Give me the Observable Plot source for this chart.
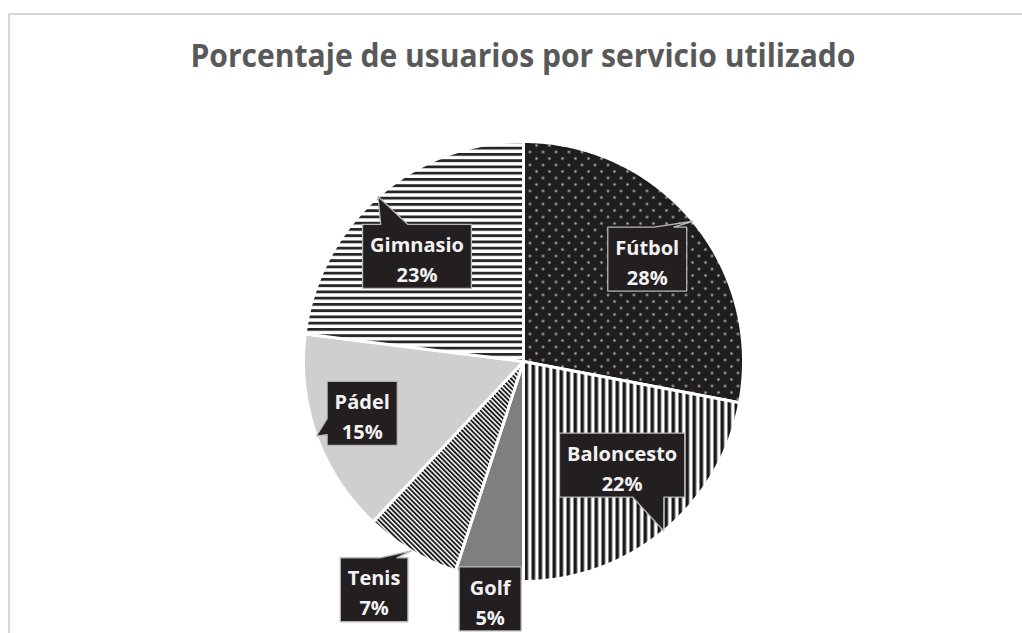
<!DOCTYPE html>
<html><head><meta charset="utf-8">
<script src="https://cdn.jsdelivr.net/npm/d3@7"></script>
<script src="https://cdn.jsdelivr.net/npm/@observablehq/plot@0.6"></script>
<style>
body{margin:0;background:#fff;}
#wrap{position:relative;width:1022px;height:633px;overflow:hidden;background:#fff;font-family:"Open Sans",sans-serif;}
#frame{position:absolute;left:8px;top:13px;width:1100px;height:700px;border-top:2px solid #d6d6d6;border-left:2px solid #d6d6d6;pointer-events:none;}
#title{position:absolute;left:0;top:39px;width:1045px;text-align:center;font-size:32px;line-height:32px;font-weight:700;color:#595959;white-space:nowrap;}
#tt{display:inline-block;transform-origin:50% 50%;}
#chart{position:absolute;left:0;top:90px;}
</style></head><body>
<div id="wrap">
<div id="title"><span id="tt">Porcentaje de usuarios por servicio utilizado</span></div>
<div id="chart"></div>
<div id="frame"></div>
</div>
<script>
// ---- data ----
const servicios = ["Fútbol", "Baloncesto", "Golf", "Tenis", "Pádel", "Gimnasio"];
const porcentajes = [28, 22, 5, 7, 15, 23];
const etiquetas = ["28%", "22%", "5%", "7%", "15%", "23%"];

// ---- styles / layout (not data) ----
const patrones = ["url(#p-futbol)", "url(#p-balon)", "#7f7f7f", "url(#p-tenis)", "#cfcfcf", "url(#p-gim)"];
const labelRadio = [0.73, 0.65, 1.09, 1.24, 0.77, 0.68];   // label centre distance (fraction of radius)
const labelGiro = [0, -4, -1, 2.6, 2, -4];                   // small angular nudge (deg)

const W = 1022, H = 543, CX = 523, CY = 271, R = 220;

// title fit
const tt = document.getElementById("tt");
const tw = tt.getBoundingClientRect().width;
tt.style.transform = `scaleX(${665 / tw})`;

// slices from data
const table = servicios.map((s, i) => ({name: s, value: porcentajes[i], label: etiquetas[i], fill: patrones[i], idx: i}));
const arcs = d3.pie().sort(null).value(d => d.value).startAngle(0).endAngle(2 * Math.PI)(table);

const slicePts = [];
for (const a of arcs) {
  const n = Math.max(2, Math.ceil((a.endAngle - a.startAngle) / (Math.PI / 360)));
  slicePts.push({name: a.data.name, fill: a.data.fill, x: 0, y: 0});
  for (let k = 0; k <= n; k++) {
    const t = a.startAngle + (a.endAngle - a.startAngle) * k / n;
    slicePts.push({name: a.data.name, fill: a.data.fill, x: Math.sin(t), y: Math.cos(t)});
  }
  slicePts.push({name: a.data.name, fill: a.data.fill, x: 0, y: 0});
}

// label boxes with callout tails
const ctx = document.createElement("canvas").getContext("2d");
ctx.font = "bold 20px 'Open Sans'";
const labels = [];
const boxPts = [];
for (const a of arcs) {
  const i = a.data.idx;
  const mid = (a.startAngle + a.endAngle) / 2;
  const lm = mid + labelGiro[i] * Math.PI / 180;
  const cx = labelRadio[i] * Math.sin(lm), cy = labelRadio[i] * Math.cos(lm);
  const tx = Math.sin(mid), ty = Math.cos(mid);
  const tw = Math.max(ctx.measureText(a.data.name).width, ctx.measureText(a.data.label).width);
  const w = Math.max(tw + 15, 62) / R, h = 64 / R;
  const hw = w / 2, hh = h / 2;
  const l = cx - hw, r = cx + hw, t = cy + hh, b = cy - hh;
  const dx = (tx - cx) / hw, dy = (ty - cy) / hh;
  let pts;
  if (Math.abs(dx) <= 1 && Math.abs(dy) <= 1) {
    pts = [[l, t], [r, t], [r, b], [l, b], [l, t]];
  } else if (Math.abs(dy) >= Math.abs(dx)) {
    const xs = tx < cx ? [l + w * 2 / 12, l + w * 5 / 12] : [l + w * 7 / 12, l + w * 10 / 12];
    if (dy > 0) pts = [[l, t], [xs[0], t], [tx, ty], [xs[1], t], [r, t], [r, b], [l, b], [l, t]];
    else pts = [[l, t], [r, t], [r, b], [xs[1], b], [tx, ty], [xs[0], b], [l, b], [l, t]];
  } else {
    const ys = ty > cy ? [t - h * 2 / 12, t - h * 5 / 12] : [t - h * 7 / 12, t - h * 10 / 12];
    if (dx > 0) pts = [[l, t], [r, t], [r, ys[0]], [tx, ty], [r, ys[1]], [r, b], [l, b], [l, t]];
    else pts = [[l, t], [r, t], [r, b], [l, b], [l, ys[1]], [tx, ty], [l, ys[0]], [l, t]];
  }
  for (const p of pts) boxPts.push({name: a.data.name, x: p[0], y: p[1]});
  labels.push({x: cx, y: cy, text: a.data.name + "\n" + a.data.label});
}

const chart = Plot.plot({
  width: W, height: H, margin: 0,
  style: {background: "transparent"},
  x: {domain: [-CX / R, (W - CX) / R], axis: null},
  y: {domain: [-(H - CY) / R, CY / R], axis: null},
  color: {type: "identity"},
  marks: [
    Plot.line(slicePts, {x: "x", y: "y", z: "name", fill: "fill", stroke: "white", strokeWidth: 3, curve: "linear", strokeLinejoin: "round"}),
    Plot.line(boxPts, {x: "x", y: "y", z: "name", fill: "#231f20", stroke: "#b8b8b8", strokeWidth: 1.3, curve: "linear", strokeLinejoin: "miter"}),
    Plot.text(labels, {x: "x", y: "y", text: "text", fill: "#f2f2f2", fontSize: 20, fontWeight: "bold", fontFamily: "Open Sans", lineHeight: 1.5, dy: 1})
  ]
});

// patterns
const svg = d3.select(chart);
const defs = svg.insert("defs", ":first-child");
let p = defs.append("pattern").attr("id", "p-futbol").attr("patternUnits", "userSpaceOnUse").attr("width", 13).attr("height", 13);
p.append("rect").attr("width", 13).attr("height", 13).attr("fill", "#1f1d1e");
p.append("circle").attr("cx", 3).attr("cy", 3).attr("r", 1.25).attr("fill", "#b4b4b4");
p.append("circle").attr("cx", 9.5).attr("cy", 9.5).attr("r", 1.25).attr("fill", "#b4b4b4");

p = defs.append("pattern").attr("id", "p-balon").attr("patternUnits", "userSpaceOnUse").attr("width", 7).attr("height", 10).attr("x", 523 % 7 + 1);
p.append("rect").attr("width", 7).attr("height", 10).attr("fill", "#ffffff");
p.append("rect").attr("width", 3.6).attr("height", 10).attr("fill", "#1a1a1a");

p = defs.append("pattern").attr("id", "p-gim").attr("patternUnits", "userSpaceOnUse").attr("width", 10).attr("height", 6.25);
p.append("rect").attr("width", 10).attr("height", 6.25).attr("fill", "#ffffff");
p.append("rect").attr("width", 10).attr("height", 2.8).attr("fill", "#262626");

p = defs.append("pattern").attr("id", "p-tenis").attr("patternUnits", "userSpaceOnUse").attr("width", 3.4).attr("height", 3.4).attr("patternTransform", "rotate(-45)");
p.append("rect").attr("width", 3.4).attr("height", 3.4).attr("fill", "#ffffff");
p.append("rect").attr("width", 1.9).attr("height", 3.4).attr("fill", "#1a1a1a");

document.getElementById("chart").appendChild(chart);
</script>
</body></html>
